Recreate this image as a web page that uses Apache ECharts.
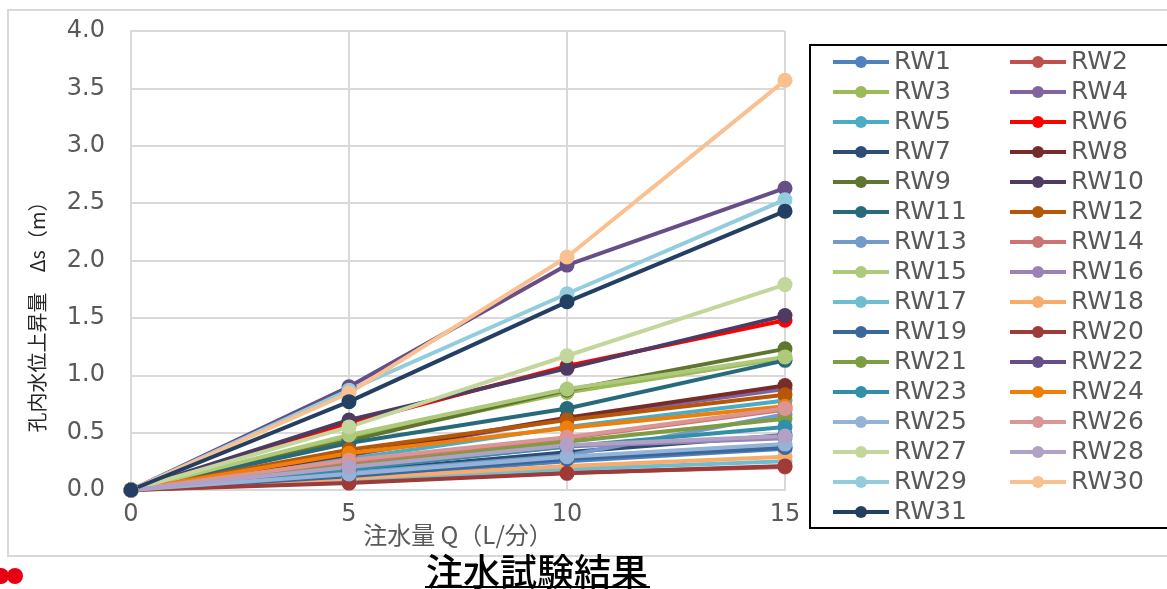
<!DOCTYPE html>
<html>
<head>
<meta charset="utf-8">
<script src="https://cdn.jsdelivr.net/npm/echarts@6/dist/echarts.min.js"></script>
<style>
  html, body { margin: 0; padding: 0; background: #fff; }
  #chart { width: 1167px; height: 589px; }
</style>
</head>
<body>
<div id="chart"></div>
<script>
// Injection flow rate Q (L/min)
const flowQ = [0, 5, 10, 15];
const xTicks = [0, 5, 10, 15];
const yTicks = [0, 0.5, 1.0, 1.5, 2.0, 2.5, 3.0, 3.5, 4.0];

// Water level rise Δs (m) in each borehole, one value per flow step
const RW1  = [0, 0.11, 0.25, 0.36];
const RW2  = [0, 0.07, 0.15, 0.20];
const RW3  = [0, 0.45, 0.85, 1.15];
const RW4  = [0, 0.30, 0.62, 0.88];
const RW5  = [0, 0.27, 0.55, 0.78];
const RW6  = [0, 0.58, 1.08, 1.48];
const RW7  = [0, 0.16, 0.33, 0.48];
const RW8  = [0, 0.31, 0.63, 0.91];
const RW9  = [0, 0.43, 0.87, 1.23];
const RW10 = [0, 0.61, 1.06, 1.52];
const RW11 = [0, 0.41, 0.71, 1.13];
const RW12 = [0, 0.35, 0.61, 0.83];
const RW13 = [0, 0.15, 0.30, 0.66];
const RW14 = [0, 0.24, 0.45, 0.70];
const RW15 = [0, 0.48, 0.88, 1.16];
const RW16 = [0, 0.19, 0.38, 0.45];
const RW17 = [0, 0.09, 0.18, 0.25];
const RW18 = [0, 0.10, 0.21, 0.29];
const RW19 = [0, 0.12, 0.27, 0.37];
const RW20 = [0, 0.06, 0.145, 0.21];
const RW21 = [0, 0.21, 0.42, 0.62];
const RW22 = [0, 0.90, 1.96, 2.63];
const RW23 = [0, 0.18, 0.38, 0.55];
const RW24 = [0, 0.32, 0.54, 0.73];
const RW25 = [0, 0.14, 0.29, 0.40];
const RW26 = [0, 0.26, 0.46, 0.71];
const RW27 = [0, 0.55, 1.17, 1.79];
const RW28 = [0, 0.20, 0.39, 0.47];
const RW29 = [0, 0.87, 1.71, 2.53];
const RW30 = [0, 0.845, 2.03, 3.57];
const RW31 = [0, 0.77, 1.64, 2.43];

const wellNames = ['RW1','RW2','RW3','RW4','RW5','RW6','RW7','RW8','RW9','RW10',
  'RW11','RW12','RW13','RW14','RW15','RW16','RW17','RW18','RW19','RW20',
  'RW21','RW22','RW23','RW24','RW25','RW26','RW27','RW28','RW29','RW30','RW31'];
const wellRises = [RW1,RW2,RW3,RW4,RW5,RW6,RW7,RW8,RW9,RW10,
  RW11,RW12,RW13,RW14,RW15,RW16,RW17,RW18,RW19,RW20,
  RW21,RW22,RW23,RW24,RW25,RW26,RW27,RW28,RW29,RW30,RW31];

// Line colours, in well order
const palette = ['#4F81BD','#C0504D','#9BBB59','#8064A2','#4BACC6','#FF0000',
  '#2C4D75','#772C2A','#5F7530','#4D3B62','#276A7C','#B65708',
  '#729ACA','#CD7371','#AFC97A','#9983B5','#6FBDD1','#F9AB6B',
  '#3A679C','#9E3B38','#7E9C40','#664E88','#328FA8','#F07F09',
  '#95B3D7','#D99694','#C3D69B','#B2A1C7','#93CDDD','#FAC090','#233F63'];

const textGray = '#595959';
const gridGray = '#d9d9d9';
const labelFont = 'DejaVu Sans';
const cjkFont = '"Noto Sans CJK JP", sans-serif';

const series = wellNames.map((name, i) => ({
  name: name,
  type: 'line',
  data: flowQ.map((q, k) => [q, wellRises[i][k]]),
  symbol: 'circle',
  symbolSize: 15,
  showSymbol: true,
  lineStyle: { width: 4, color: palette[i] },
  itemStyle: { color: palette[i] },
  emphasis: { disabled: true },
  z: 2
}));

const chart = echarts.init(document.getElementById('chart'), null, { renderer: 'canvas' });
chart.setOption({
  animation: false,
  backgroundColor: '#ffffff',
  grid: { left: 131, right: 382, top: 31, bottom: 99, containLabel: false },
  xAxis: {
    type: 'value',
    min: xTicks[0],
    max: xTicks[xTicks.length - 1],
    interval: 5,
    axisLine: { show: true, lineStyle: { color: gridGray, width: 2 } },
    axisTick: { show: false },
    splitLine: { show: true, lineStyle: { color: gridGray, width: 2 } },
    axisLabel: { color: textGray, fontFamily: labelFont, fontSize: 24, margin: 13 }
  },
  yAxis: {
    type: 'value',
    min: yTicks[0],
    max: yTicks[yTicks.length - 1],
    interval: 0.5,
    axisLine: { show: true, lineStyle: { color: gridGray, width: 2 } },
    axisTick: { show: false },
    splitLine: { show: true, lineStyle: { color: gridGray, width: 2 } },
    axisLabel: {
      color: textGray, fontFamily: labelFont, fontSize: 24, margin: 26,
      formatter: v => v.toFixed(1)
    }
  },
  legend: {
    data: wellNames,
    orient: 'horizontal',
    left: 826,
    top: 44,
    width: 355,
    itemWidth: 56,
    itemHeight: 15,
    itemGap: 4,
    selectedMode: false,
    itemStyle: { borderWidth: 0 },
    lineStyle: { width: 4 },
    textStyle: {
      color: textGray, fontFamily: labelFont, fontSize: 25,
      width: 110, lineHeight: 26, overflow: 'none'
    }
  },
  series: series,
  graphic: [
    // outer chart frame
    { type: 'rect', z: 0, shape: { x: 8, y: 10, width: 1175, height: 546 },
      style: { fill: 'none', stroke: gridGray, lineWidth: 2 } },
    // legend box
    { type: 'rect', z: 1, shape: { x: 810, y: 45, width: 400, height: 483 },
      style: { fill: 'none', stroke: '#000000', lineWidth: 2 } },
    // x axis title
    { type: 'text', z: 5, x: 458, y: 535,
      style: { text: '注水量 Q（L/分）', fill: textGray, font: '24px ' + cjkFont,
               align: 'center', verticalAlign: 'middle' } },
    // y axis title
    { type: 'text', z: 5, x: 37, y: 312, rotation: Math.PI / 2,
      style: { text: '孔内水位上昇量　Δs（m）', fill: '#262626', font: '20px ' + cjkFont,
               align: 'center', verticalAlign: 'middle' } },
    // caption below the chart
    { type: 'text', z: 5, x: 537, y: 572,
      style: { text: '注水試験結果', fill: '#000000', font: '500 37px ' + cjkFont,
               align: 'center', verticalAlign: 'middle' } },
    { type: 'line', z: 5, shape: { x1: 425, y1: 587, x2: 650, y2: 587 },
      style: { stroke: '#000000', lineWidth: 2 } },
    // red markers at the lower left
    { type: 'circle', z: 5, shape: { cx: 15, cy: 576, r: 8 }, style: { fill: '#e60012' } },
    { type: 'circle', z: 5, shape: { cx: 1, cy: 576, r: 8 }, style: { fill: '#e60012' } }
  ]
});
</script>
</body>
</html>
